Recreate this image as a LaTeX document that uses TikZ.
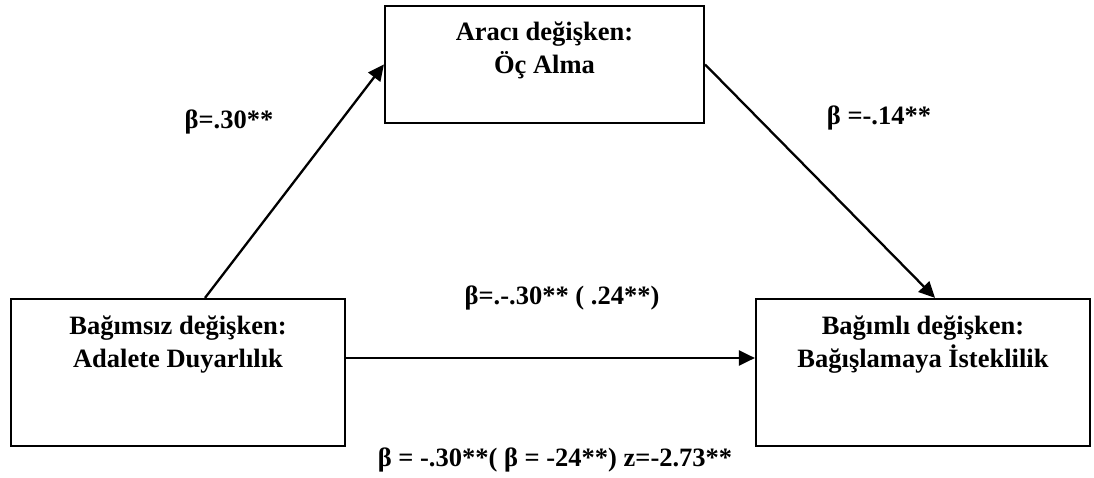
\documentclass[tikz,border=0pt]{standalone}
\usepackage{fontspec}
\setmainfont{Liberation Serif}
\usetikzlibrary{positioning,arrows.meta}
\begin{document}
\begin{tikzpicture}[x=1pt, y=-1pt,
  font=\fontsize{26.5}{33}\selectfont\bfseries,
  varbox/.style={draw, line width=2.2pt, rectangle, inner sep=0pt},
  boxtext/.style={align=center, inner sep=0pt},
  coef/.style={inner sep=0pt},
  link/.style={line width=2.3pt, -{Triangle[length=16pt, width=15pt]}}]
  \useasboundingbox (0,0) rectangle (1094,478);

  % the three variables
  \node[varbox, minimum width=319pt, minimum height=117pt] (arac)  at (544.5,64.5) {};
  \node[varbox, minimum width=334pt, minimum height=147pt] (indep) at (178,372.5) {};
  \node[varbox, minimum width=334pt, minimum height=147pt] (dep)   at (923,372.5) {};
  \node[boxtext, below=17pt of arac.north]  (arac text)  {Aracı değişken:\\Öç Alma};
  \node[boxtext, below=18pt of indep.north] (indep text) {Bağımsız değişken:\\Adalete Duyarlılık};
  \node[boxtext, below=18pt of dep.north]   (dep text)   {Bağımlı değişken:\\Bağışlamaya İsteklilik};

  % paths a, b and c
  \draw[link] ([xshift=27pt]indep.north) -- (arac.west);
  \draw[link] (arac.east) -- ([xshift=12pt]dep.north);
  \coordinate (c start) at ([yshift=14.5pt]indep.east);
  \draw[link] (c start) -- (c start -| dep.west);

  % coefficients
  \node[coef] (beta a) at (229,122) {β=.30**};
  \node[coef] (beta b) at (879,118) {β =-.14**};
  \node[coef] (beta c) at (562,298) {β=.-.30** ( .24**)};
  \node[coef] (beta z) at (555,460) {β = -.30**( β = -24**) z=-2.73**};
\end{tikzpicture}
\end{document}
